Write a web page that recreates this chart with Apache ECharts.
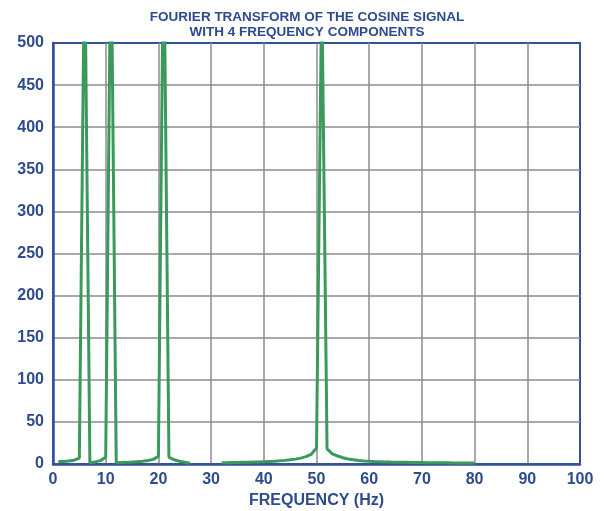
<!DOCTYPE html>
<html>
<head>
<meta charset="utf-8">
<script src="https://cdn.jsdelivr.net/npm/echarts@6/dist/echarts.min.js"></script>
<style>
  html, body { margin: 0; padding: 0; background: #fff; }
  #chart { width: 605px; height: 511px; }
</style>
</head>
<body>
<div id="chart"></div>
<script>
// frequency bins (Hz) and FFT magnitude; null = no line drawn
var freq = [1, 2, 3, 4, 5, 6, 7, 8, 9, 10,
            11, 12, 13, 14, 15, 16, 17, 18, 19, 20,
            21, 22, 23, 24, 25, 26, 27, 28, 29, 30,
            31, 32, 33, 34, 35, 36, 37, 38, 39, 40,
            41, 42, 43, 44, 45, 46, 47, 48, 49, 50,
            51, 52, 53, 54, 55, 56, 57, 58, 59, 60,
            61, 62, 63, 64, 65, 66, 67, 68, 69, 70,
            71, 72, 73, 74, 75, 76, 77, 78, 79, 80]
var magnitude = [3, 3, 3.5, 4.5, 7, 620, 1.5, 2.5, 4, 8,
                 640, 1.5, 1.8, 2, 2.3, 2.8, 3.3, 4.2, 5.5, 9,
                 640, 8, 5, 3.2, 2, 1, null, null, null, null,
                 null, 1.5, 1.6, 1.7, 1.8, 2, 2.1, 2.3, 2.5, 2.8,
                 3.1, 3.4, 3.8, 4.3, 5, 5.8, 7, 8.7, 11.5, 19,
                 570, 18, 12, 9.5, 7.5, 6, 5, 4.2, 3.6, 3.2,
                 2.9, 2.7, 2.5, 2.3, 2.2, 2.1, 2, 1.9, 1.8, 1.7,
                 1.6, 1.5, 1.5, 1.4, 1.4, 1.3, 1.3, 1.2, 1.2, 1.2]

var blue = '#2d4b8e'
var points = freq.map(function (f, i) { return [f, magnitude[i]] })

var chart = echarts.init(document.getElementById('chart'))

var option = {
    animation: false,
    backgroundColor: '#fff',
    title: {
        text: 'FOURIER TRANSFORM OF THE COSINE SIGNAL\nWITH 4 FREQUENCY COMPONENTS',
        left: 302,
        top: 5,
        textAlign: 'center',
        textStyle: {
            fontFamily: 'Liberation Sans',
            fontSize: 13.5,
            fontWeight: 'bold',
            color: blue,
            lineHeight: 15
        }
    },
    grid: {
        left: 53,
        right: 25,
        top: 43,
        bottom: 47,
        containLabel: false,
        outerBoundsMode: 'none',
        show: true,
        borderColor: '#34529a',
        borderWidth: 2
    },
    xAxis: {
        type: 'value',
        min: 0,
        max: 100,
        interval: 10,
        name: 'FREQUENCY (Hz)',
        nameLocation: 'middle',
        nameGap: 29,
        nameTextStyle: { fontFamily: 'Liberation Sans', fontSize: 16, fontWeight: 'bold', color: blue },
        axisLine: { lineStyle: { color: '#34529a', width: 2.5 } },
        axisTick: { show: false },
        axisLabel: { fontFamily: 'Liberation Sans', fontSize: 16, fontWeight: 'bold', color: blue, margin: 8 },
        splitLine: { showMinLine: false, showMaxLine: false, lineStyle: { color: '#8c8c8c', width: 1.5 } }
    },
    yAxis: {
        type: 'value',
        min: 0,
        max: 500,
        interval: 50,
        axisLine: { show: true, lineStyle: { color: '#34529a', width: 2.5 } },
        axisTick: { show: false },
        axisLabel: { fontFamily: 'Liberation Sans', fontSize: 16, fontWeight: 'bold', color: blue, margin: 9 },
        splitLine: { showMinLine: false, showMaxLine: false, lineStyle: { color: '#8c8c8c', width: 1.5 } }
    },
    series: [
        {
            type: 'line',
            data: points,
            showSymbol: false,
            connectNulls: false,
            clip: true,
            lineStyle: { color: '#3a9a5b', width: 3 },
            z: 3
        }
    ]
}

chart.setOption(option)
</script>
</body>
</html>
